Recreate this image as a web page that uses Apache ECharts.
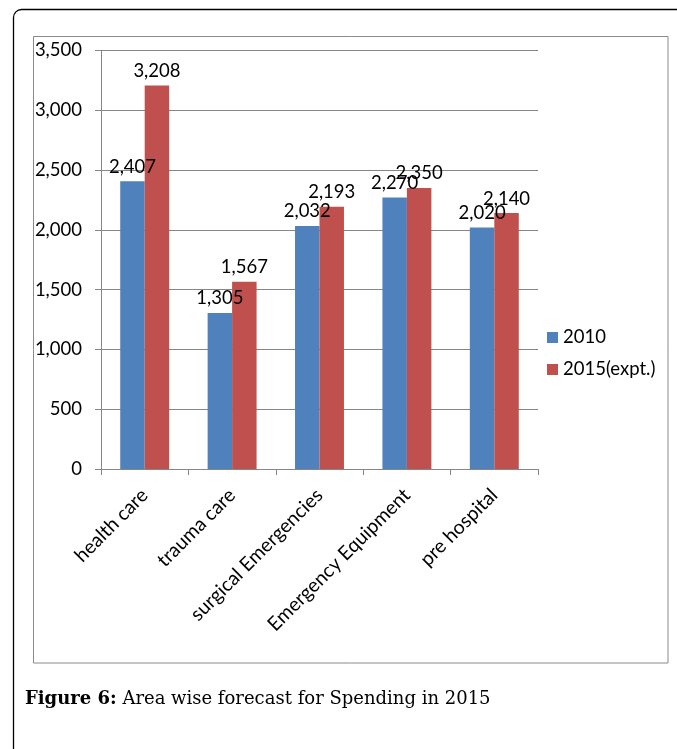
<!DOCTYPE html>
<html>
<head>
<meta charset="utf-8">
<script src="https://cdn.jsdelivr.net/npm/echarts@6/dist/echarts.min.js"></script>
<style>
html,body{margin:0;padding:0;background:#fff;}
#c{width:677px;height:749px;}
</style>
</head>
<body>
<div id="c"></div>
<script>
var categories = ['health care', 'trauma care', 'surgical Emergencies', 'Emergency Equipment', 'pre hospital'];
var series2010 = [2407, 1305, 2032, 2270, 2020];
var series2015 = [3208, 1567, 2193, 2350, 2140];
var seriesNames = ['2010', '2015(expt.)'];
var yTicks = { min: 0, max: 3500, interval: 500 };
var captionBold = 'Figure 6:';
var captionText = ' Area wise forecast for Spending in 2015';

function fmt(v) {
  return String(v).replace(/\B(?=(\d{3})+(?!\d))/g, ',');
}

var FONT = 'Lato';
var FS = 18.5;
var chart = echarts.init(document.getElementById('c'), null, { renderer: 'canvas' });

var labelOpt = {
  show: true,
  position: 'top',
  distance: 5,
  color: '#000',
  fontFamily: FONT,
  fontSize: FS,
  formatter: function (p) { return fmt(p.value); }
};

chart.setOption({
  animation: false,
  backgroundColor: '#fff',
  textStyle: { fontFamily: FONT },
  grid: { left: 101, right: 139, top: 50.5, bottom: 280, containLabel: false },
  legend: {
    orient: 'vertical',
    left: 542,
    top: 322,
    icon: 'rect',
    itemWidth: 11,
    itemHeight: 11,
    itemGap: 11,
    textStyle: { fontFamily: FONT, fontSize: FS, color: '#000', lineHeight: 21, padding: [0, 0, 0, 0] },
    data: seriesNames
  },
  xAxis: {
    type: 'category',
    data: categories,
    axisLine: { show: true, lineStyle: { color: '#868686', width: 1 } },
    axisTick: { show: true, length: 6, alignWithLabel: false, lineStyle: { color: '#868686' } },
    axisLabel: { rotate: 45, margin: 23, color: '#000', fontFamily: FONT, fontSize: 19.5, interval: 0 },
    splitLine: { show: false }
  },
  yAxis: {
    type: 'value',
    min: yTicks.min,
    max: yTicks.max,
    interval: yTicks.interval,
    axisLine: { show: true, lineStyle: { color: '#868686', width: 1 } },
    axisTick: { show: true, length: 6, lineStyle: { color: '#868686' } },
    axisLabel: { margin: 19, color: '#000', fontFamily: FONT, fontSize: FS, formatter: function (v) { return fmt(v); } },
    splitLine: { show: true, lineStyle: { color: '#868686', width: 1 } }
  },
  series: [
    {
      name: seriesNames[0],
      type: 'bar',
      data: series2010,
      barGap: '0%',
      barCategoryGap: '44%',
      itemStyle: { color: '#4F81BD' },
      label: labelOpt
    },
    {
      name: seriesNames[1],
      type: 'bar',
      data: series2015,
      barGap: '0%',
      barCategoryGap: '44%',
      itemStyle: { color: '#C0504D' },
      label: labelOpt
    }
  ],
  graphic: [
    {
      type: 'rect',
      silent: true,
      shape: { x: 13.5, y: 9.5, width: 900, height: 900, r: 8 },
      style: { fill: null, stroke: '#000', lineWidth: 1.3 }
    },
    {
      type: 'rect',
      silent: true,
      shape: { x: 33.5, y: 36.5, width: 634.5, height: 626.5 },
      style: { fill: null, stroke: '#8a8a8a', lineWidth: 1 }
    },
    {
      type: 'text',
      silent: true,
      x: 25,
      y: 708,
      style: {
        text: '{b|' + captionBold + '}' + captionText,
        fontFamily: 'DejaVu Serif',
        fontSize: 18,
        fill: '#000',
        verticalAlign: 'bottom',
        rich: {
          b: { fontFamily: 'DejaVu Serif', fontSize: 18, fontWeight: 'bold', fill: '#000' }
        }
      }
    }
  ]
});
</script>
</body>
</html>
